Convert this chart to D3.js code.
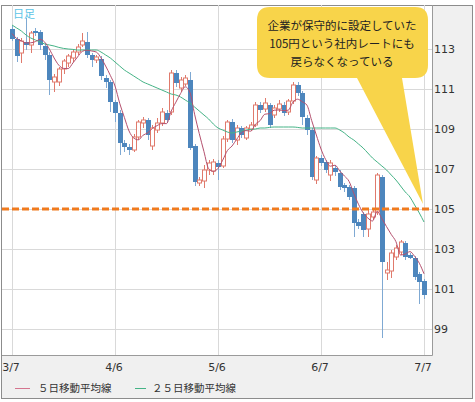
<!DOCTYPE html>
<html><head><meta charset="utf-8">
<script src="https://cdn.jsdelivr.net/npm/d3@7"></script>
<style>html,body{margin:0;padding:0;background:#fff;}svg{display:block;}</style>
</head><body>
<script>
// ---- data (USD/JPY daily) ----
const xTickIndex = [0, 22, 44, 66, 88];
const xTickLabels = ["3/7", "4/6", "5/6", "6/7", "7/7"];
const yTicks = [99, 101, 103, 105, 107, 109, 111, 113];

const open = [114.00,113.50,112.80,113.35,113.20,113.90,113.85,113.15,112.70,111.35,111.35,112.00,112.30,112.55,112.85,113.20,113.35,112.70,112.45,112.50,111.55,111.35,110.35,109.80,108.30,108.10,107.95,108.60,109.30,109.45,108.15,108.95,109.30,109.80,109.85,111.80,111.05,111.25,111.45,108.15,106.30,106.40,106.95,106.90,107.30,107.15,108.50,109.35,108.45,109.05,108.55,109.00,109.20,110.20,110.00,110.20,109.70,110.00,110.20,109.85,110.40,111.20,110.80,109.55,108.95,106.45,107.55,107.35,106.70,107.05,106.80,106.20,106.10,106.05,104.35,104.75,104.00,104.60,104.85,106.60,101.80,101.90,102.60,102.85,103.30,102.70,102.55,101.75,101.40];
const high = [114.15,113.60,113.55,114.55,113.90,114.05,113.95,113.30,112.85,111.75,112.10,112.50,112.75,113.00,113.25,113.80,113.85,112.80,112.70,112.65,111.70,111.45,110.45,109.95,108.45,108.25,108.75,109.45,109.60,109.55,109.20,109.55,110.05,109.95,111.95,111.95,111.60,111.70,111.85,108.25,106.60,107.20,107.45,107.50,107.45,108.65,109.45,109.50,109.20,109.15,109.15,109.35,110.35,110.35,110.55,110.30,110.20,110.45,110.35,110.50,111.35,111.35,110.90,109.70,109.05,107.65,107.70,107.45,107.45,107.15,106.95,106.30,106.20,106.15,104.50,104.85,104.95,105.00,106.80,106.70,102.35,102.95,103.20,103.45,103.40,102.80,102.65,101.85,101.50];
const low = [113.40,112.35,112.30,112.95,112.80,113.65,112.95,112.45,110.70,110.85,111.15,111.75,112.10,112.35,112.70,113.10,112.55,112.10,112.30,111.45,111.05,109.85,109.35,107.70,107.85,107.70,107.85,108.45,109.05,108.45,107.95,108.80,109.15,109.30,109.70,111.10,110.85,111.15,107.95,106.15,106.15,106.05,106.70,106.70,106.45,107.05,108.35,108.30,108.20,108.55,108.45,108.90,109.10,109.80,109.85,109.05,109.55,109.85,109.65,109.70,110.25,110.65,109.20,108.70,106.45,106.25,107.15,106.80,106.40,106.65,105.95,105.85,105.45,103.60,104.00,103.60,103.60,104.45,104.70,98.55,101.45,101.55,102.45,102.70,102.45,102.50,101.45,100.25,100.50];
const close = [113.50,112.65,113.40,113.20,113.80,113.80,113.20,112.70,111.45,111.60,112.00,112.40,112.65,112.85,113.10,113.40,112.70,112.45,112.60,111.65,111.35,110.35,109.80,108.30,108.10,107.95,108.60,109.35,109.45,108.70,109.05,109.30,109.85,109.45,111.80,111.30,111.45,111.55,108.05,106.35,106.45,106.95,107.30,107.35,107.10,108.50,109.35,108.45,109.05,108.70,109.05,109.20,110.20,109.95,110.30,109.20,110.05,110.25,109.80,110.40,111.20,110.80,109.60,108.95,106.60,107.55,107.30,106.95,107.30,106.85,106.10,106.05,105.60,104.30,104.15,103.95,104.75,104.85,106.70,102.35,101.95,102.80,103.05,103.35,102.60,102.55,101.60,101.35,100.70];
// closes of the four trading days before 3/7 (needed for the first 5-day averages)
const priorCloses = [113.90, 114.00, 113.70, 113.77];
// 25-day moving average
const ma25 = [114.20,114.05,113.90,113.70,113.55,113.45,113.35,113.25,113.20,113.15,113.08,113.03,113.00,112.98,112.95,112.95,112.95,112.95,112.95,112.85,112.70,112.55,112.35,112.15,111.95,111.80,111.65,111.50,111.35,111.25,111.15,111.05,110.95,110.85,110.75,110.70,110.60,110.45,110.30,110.10,109.90,109.70,109.50,109.25,109.05,108.95,108.85,108.80,108.85,108.90,108.95,108.98,109.00,109.05,109.05,109.08,109.10,109.10,109.10,109.10,109.10,109.08,109.05,109.05,109.05,109.05,109.05,109.05,109.05,109.05,108.95,108.80,108.60,108.45,108.25,108.05,107.80,107.55,107.35,107.15,106.95,106.70,106.45,106.15,105.85,105.60,105.20,104.80,104.35];
const refLevel = 105;
const calloutLines = ["企業が保守的に設定していた", "105円という社内レートにも", "戻らなくなっている"];
const legendLabels = ["５日移動平均線", "２５日移動平均線"];
const periodLabel = "日足";

// ---- drawing ----
const W = 475, H = 402;
const plot = {l: 2, r: 432, t: 5, b: 355};
const svg = d3.select("body").append("svg").attr("width", W).attr("height", H);

const x = d3.scaleLinear().domain([0, 88]).range([12, 424]);
const y = d3.scaleLinear().domain([97.7, 115.2]).range([plot.b, plot.t]);

// outer panel
svg.append("rect").attr("x", 1.5).attr("y", 5.5).attr("width", 471).attr("height", 393)
  .attr("fill", "#f0f0f0").attr("stroke", "#8c8c8c");
svg.append("rect").attr("x", plot.l).attr("y", plot.t + 1).attr("width", plot.r - plot.l).attr("height", plot.b - plot.t - 1)
  .attr("fill", "#fff");

const clip = svg.append("clipPath").attr("id", "pc").append("rect")
  .attr("x", plot.l).attr("y", plot.t).attr("width", plot.r - plot.l).attr("height", plot.b - plot.t);

const g = svg.append("g").attr("clip-path", "url(#pc)");

// grid
g.selectAll(".hg").data(yTicks).join("line")
  .attr("x1", plot.l).attr("x2", plot.r)
  .attr("y1", d => Math.round(y(d)) + 0.5).attr("y2", d => Math.round(y(d)) + 0.5)
  .attr("stroke", "#d9d9d9");
g.selectAll(".vg").data(xTickIndex).join("line")
  .attr("y1", plot.t).attr("y2", plot.b)
  .attr("x1", d => Math.round(x(d)) + 0.5).attr("x2", d => Math.round(x(d)) + 0.5)
  .attr("stroke", "#d9d9d9");

// candles
const idx = d3.range(close.length);
const upCol = "#e07a6c", dnCol = "#4d86bd", dnWick = "#7fa9d3";
g.selectAll(".wick").data(idx).join("line")
  .attr("x1", i => Math.round(x(i)) + 0.5).attr("x2", i => Math.round(x(i)) + 0.5)
  .attr("y1", i => y(high[i])).attr("y2", i => y(low[i]))
  .attr("stroke", i => close[i] >= open[i] ? upCol : dnWick).attr("stroke-width", 1);
g.selectAll(".body").data(idx).join("rect")
  .attr("x", i => close[i] >= open[i] ? Math.round(x(i)) - 1.5 : Math.round(x(i)) - 2)
  .attr("width", i => close[i] >= open[i] ? 4 : 5)
  .attr("y", i => y(Math.max(open[i], close[i])))
  .attr("height", i => Math.max(1.5, Math.abs(y(open[i]) - y(close[i]))))
  .attr("fill", i => close[i] >= open[i] ? "#fff" : dnCol)
  .attr("stroke", i => close[i] >= open[i] ? upCol : "none")
  .attr("stroke-width", 1);

// moving averages
const allC = priorCloses.concat(close);
const ma5 = idx.map(i => d3.mean(allC.slice(i, i + 5)));
const line = d3.line().x((d, i) => x(i)).y(d => y(d)).curve(d3.curveMonotoneX);
g.append("path").attr("d", line(ma25)).attr("fill", "none").attr("stroke", "#45b386").attr("stroke-width", 1);
g.append("path").attr("d", line(ma5)).attr("fill", "none").attr("stroke", "#b4506e").attr("stroke-width", 1);

// reference level
g.append("line").attr("x1", plot.l).attr("x2", plot.r)
  .attr("y1", y(refLevel)).attr("y2", y(refLevel))
  .attr("stroke", "#f07a1e").attr("stroke-width", 3).attr("stroke-dasharray", "7,3");

// plot border
svg.append("path").attr("d", `M${plot.l},${plot.b + 0.5}H${plot.r + 0.5}V${plot.t}`)
  .attr("fill", "none").attr("stroke", "#9a9a9a");

// period label
svg.append("text").attr("x", 13).attr("y", 18).text(periodLabel)
  .attr("font-family", "Noto Sans CJK JP").attr("font-size", 11).attr("fill", "#5cc3e6");

// y labels
svg.selectAll(".yl").data(yTicks).join("text")
  .attr("x", 434).attr("y", d => y(d) + 4).text(d => d)
  .attr("font-family", "DejaVu Sans").attr("font-size", 11).attr("fill", "#333");
// x labels
svg.selectAll(".xl").data(xTickIndex).join("text")
  .attr("x", d => x(d) - 1).attr("y", 371).attr("text-anchor", "middle")
  .text((d, i) => xTickLabels[i])
  .attr("font-family", "DejaVu Sans").attr("font-size", 11).attr("fill", "#333");

// legend
const legCols = ["#d4758f", "#45b386"];
const legX = [15, 135];
legendLabels.forEach((t, k) => {
  svg.append("line").attr("x1", legX[k]).attr("x2", legX[k] + (k ? 11 : 15)).attr("y1", 388.5).attr("y2", 388.5)
    .attr("stroke", legCols[k]).attr("stroke-width", 1);
  svg.append("text").attr("x", legX[k] + (k ? 17 : 23)).attr("y", 392).text(t)
    .attr("font-family", "Noto Sans CJK JP").attr("font-size", 10.5).attr("fill", "#333");
});

// callout
const cx0 = 257, cx1 = 428, cy0 = 7, cy1 = 78, rr = 13;
const tip = [423, 204];
const cp = d3.path();
cp.moveTo(cx0 + rr, cy0);
cp.lineTo(cx1 - rr, cy0); cp.quadraticCurveTo(cx1, cy0, cx1, cy0 + rr);
cp.lineTo(cx1, cy1 - rr); cp.quadraticCurveTo(cx1, cy1, cx1 - rr, cy1);
cp.lineTo(402, cy1); cp.lineTo(tip[0], tip[1]); cp.lineTo(357, cy1);
cp.lineTo(cx0 + rr, cy1); cp.quadraticCurveTo(cx0, cy1, cx0, cy1 - rr);
cp.lineTo(cx0, cy0 + rr); cp.quadraticCurveTo(cx0, cy0, cx0 + rr, cy0);
cp.closePath();
svg.append("path").attr("d", cp.toString()).attr("fill", "#f8d44a");
svg.selectAll(".cl").data(calloutLines).join("text")
  .attr("x", 342).attr("y", (d, i) => 30 + i * 18).attr("text-anchor", "middle").text(d => d)
  .attr("font-family", "Noto Sans CJK JP").attr("font-size", 11.5).attr("fill", "#222");
</script>
</body></html>
